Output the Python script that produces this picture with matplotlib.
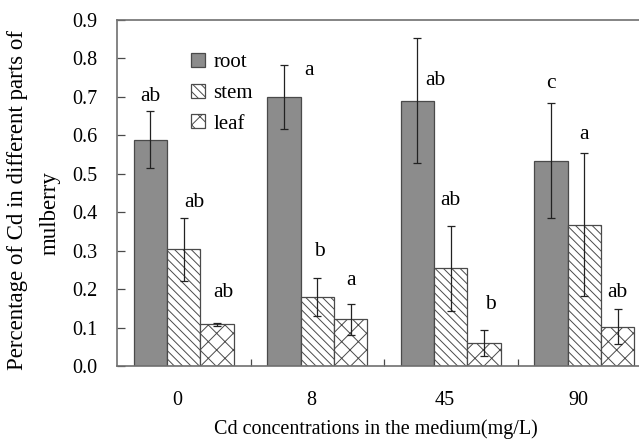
import numpy as np
import matplotlib.pyplot as plt
from matplotlib.patches import Patch

plt.rcParams['font.family'] = ['Liberation Serif', 'DejaVu Serif']
plt.rcParams['hatch.linewidth'] = 0.7

# 数据
concentrations = ['0', '8', '45', '90']
parts = ['root', 'stem', 'leaf']
root_mean = [0.588, 0.700, 0.690, 0.534]
root_err = [0.074, 0.084, 0.162, 0.149]
stem_mean = [0.304, 0.180, 0.254, 0.368]
stem_err = [0.082, 0.050, 0.110, 0.186]
leaf_mean = [0.108, 0.121, 0.060, 0.102]
leaf_err = [0.005, 0.041, 0.034, 0.046]
root_letters = ['ab', 'a', 'ab', 'c']
stem_letters = ['ab', 'b', 'ab', 'a']
leaf_letters = ['ab', 'a', 'b', 'ab']

means = [root_mean, stem_mean, leaf_mean]
errs = [root_err, stem_err, leaf_err]
letters = [root_letters, stem_letters, leaf_letters]

# 样式
faces = ['#8c8c8c', 'white', 'white']
hatches = [None, '\\\\\\\\', 'xx']
edge = '#4a4a4a'
# 字母标注的偏移 (x: 组宽单位, y: 数值单位)
label_dx = [[0, 0.19, 0.135, 0], [0.08, 0.02, 0, 0], [0.045, 0, 0.045, 0]]
label_dy = [[0.04, -0.015, -0.11, 0.053], [0.04, 0.067, 0.067, 0.047],
            [0.077, 0.06, 0.065, 0.042]]

fig = plt.figure(figsize=(6.39, 4.43), dpi=100)
ax = fig.add_axes([117 / 639, 77 / 443, 534 / 639, 346 / 443])

x = np.arange(len(concentrations))
w = 0.25
for i in range(3):
    xs = x + (i - 1) * w
    ax.bar(xs, means[i], width=w, color=faces[i], edgecolor=edge,
           linewidth=0.9, hatch=hatches[i], zorder=2)
    ax.errorbar(xs, means[i], yerr=errs[i], fmt='none', ecolor='#222222',
                elinewidth=0.9, capsize=3, capthick=0.9, zorder=3)
    for j in range(len(x)):
        top = means[i][j] + errs[i][j]
        ax.text(xs[j] + label_dx[i][j], top + label_dy[i][j], letters[i][j],
                ha='center', va='center', fontsize=15.5, zorder=4)

ax.set_xlim(-0.5, 3.5)
ax.set_ylim(0, 0.9)
ax.set_yticks(np.arange(0, 0.91, 0.1))
ax.set_yticklabels(['%.1f' % v for v in np.arange(0, 0.91, 0.1)])
ax.set_xticks(x - 0.045)
ax.set_xticklabels(concentrations)
ax.set_xticks([0.5, 1.5, 2.5], minor=True)
ax.tick_params(axis='x', which='major', length=0, pad=18, labelsize=14.5)
ax.tick_params(axis='x', which='minor', direction='in', length=5,
               color=edge, width=0.9)
ax.tick_params(axis='y', direction='in', length=6, color=edge, width=0.9,
               pad=14, labelsize=14.5)
for s in ax.spines.values():
    s.set_color('#707070')
    s.set_linewidth(1.2)
ax.spines['right'].set_visible(False)

ax.set_xlabel('Cd concentrations in the medium(mg/L)', fontsize=14.5,
              labelpad=8)
ax.xaxis.set_label_coords(0.485, -0.155)
fig.text(18 / 639, 0.549, 'Percentage of Cd in different parts of',
         rotation=90, ha='center', va='center', fontsize=16.5)
fig.text(50 / 639, 0.52, 'mulberry', rotation=90, ha='center', va='center',
         fontsize=16.5)

handles = [Patch(facecolor=faces[i], edgecolor=edge, hatch=hatches[i],
                 linewidth=0.9) for i in range(3)]
ax.legend(handles, parts, loc='upper left', bbox_to_anchor=(0.12, 0.935),
          frameon=False, fontsize=15, handlelength=0.65, handleheight=0.65,
          handletextpad=0.4, labelspacing=0.55, borderpad=0)

fig.savefig('out.png', dpi=100)
